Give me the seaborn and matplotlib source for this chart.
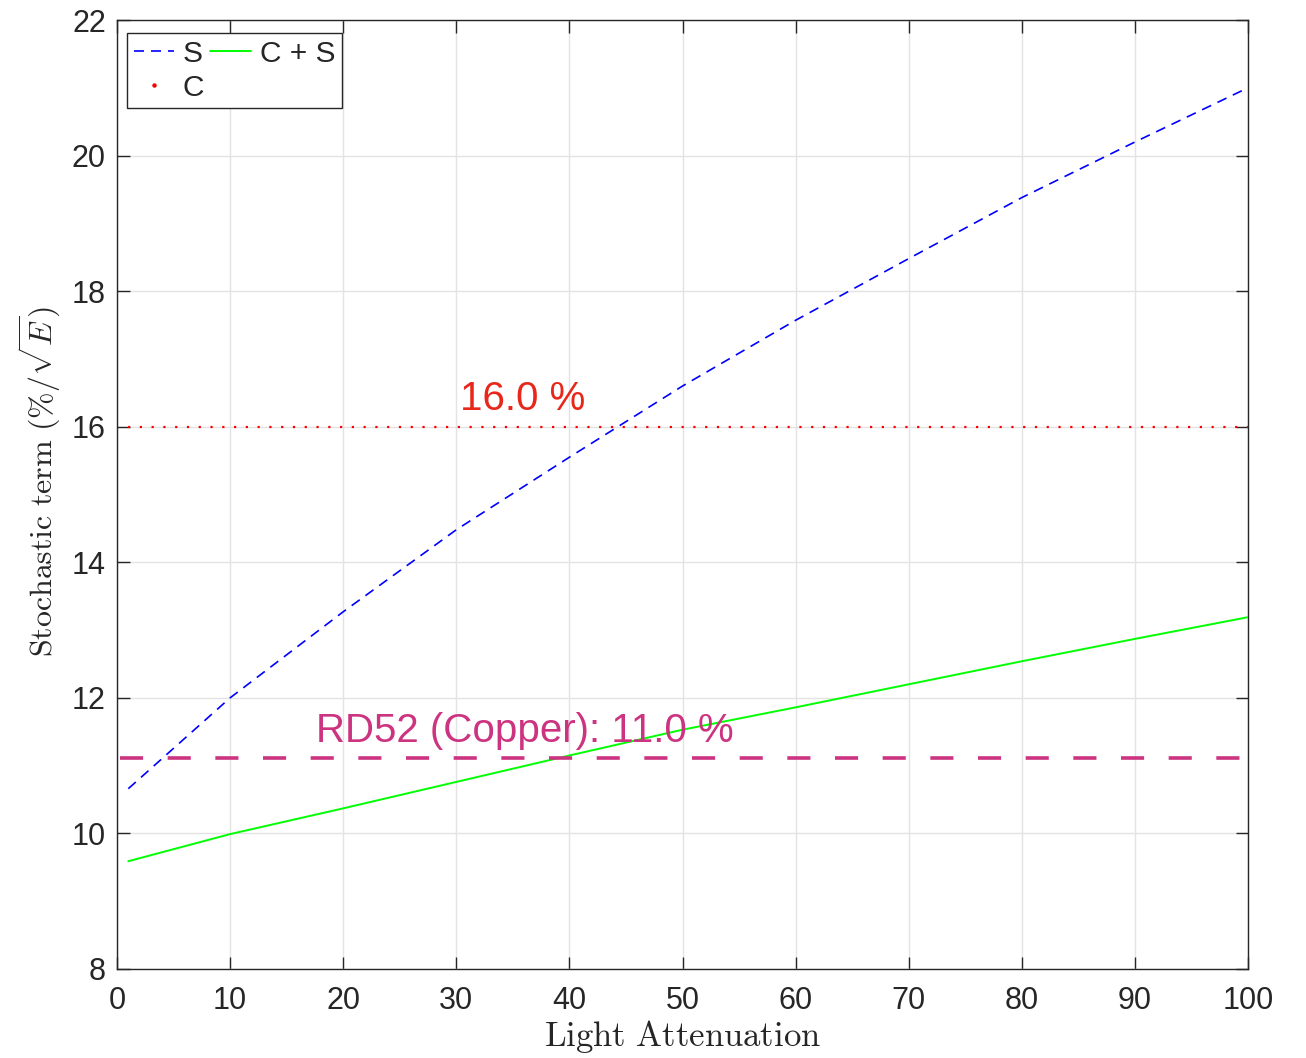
import numpy as np
import pandas as pd
import matplotlib
matplotlib.use("Agg")
import matplotlib.pyplot as plt
from matplotlib.lines import Line2D
import seaborn as sns

# ---- data ----
attenuation = [1, 10, 20, 30, 40, 50, 60, 70, 80, 90, 100]
stoch_S = [10.66, 12.0, 13.27, 14.48, 15.55, 16.6, 17.57, 18.48, 19.38, 20.2, 21.0]
stoch_CS = [9.59, 9.99, 10.37, 10.76, 11.15, 11.53, 11.86, 12.2, 12.54, 12.87, 13.19]
const_C = 16.0
rd52_value = 11.12
rd52_x = [0.3, 100]
label_C = "16.0 %"
label_rd52 = "RD52 (Copper): 11.0 %"

sns.set_theme(style="ticks")
plt.rcParams["font.family"] = ["Liberation Sans", "DejaVu Sans"]
plt.rcParams["mathtext.fontset"] = "cm"

fig = plt.figure(figsize=(13.06, 10.58), dpi=100)
ax = fig.add_axes([117 / 1306, 1 - 969 / 1058, (1248 - 117) / 1306, (969 - 20) / 1058])

df_S = pd.DataFrame({"x": attenuation, "y": stoch_S})
df_CS = pd.DataFrame({"x": attenuation, "y": stoch_CS})
df_C = pd.DataFrame({"x": attenuation, "y": [const_C] * len(attenuation)})
df_rd = pd.DataFrame({"x": rd52_x, "y": [rd52_value] * len(rd52_x)})

sns.lineplot(data=df_S, x="x", y="y", ax=ax, color="#0000FF", lw=1.2,
             label="S", zorder=3)
ax.lines[-1].set_dashes((6, 4.2))
sns.lineplot(data=df_C, x="x", y="y", ax=ax, color="#FF0000", lw=1.6,
             label="C", zorder=3)
ax.lines[-1].set_linestyle((0, (1, 4.3)))
sns.lineplot(data=df_CS, x="x", y="y", ax=ax, color="#00FF00", lw=1.4,
             label="C + S", zorder=3)
sns.lineplot(data=df_rd, x="x", y="y", ax=ax, color="#CC3380", lw=2.6,
             legend=False, zorder=3)
ax.lines[-1].set_dashes((6.4, 6.8))

ax.text(30.3, 16.25, label_C, color="#E8261A", fontsize=29, ha="left",
        va="baseline")
ax.text(17.6, 11.35, label_rd52, color="#CC3380", fontsize=29, ha="left",
        va="baseline")

ax.set_xlim(0, 100)
ax.set_ylim(8, 22)
ax.set_xticks(np.arange(0, 101, 10))
ax.set_yticks(np.arange(8, 23, 2))
ax.grid(True, color="#E3E3E3", lw=1.0)
ax.set_axisbelow(True)
ax.tick_params(direction="in", length=9, width=1.0, labelsize=22,
               top=True, right=True, colors="#262626", labelcolor="#262626", pad=8)
ax.tick_params(axis="x", pad=12)
for s in ax.spines.values():
    s.set_color("#262626")
    s.set_linewidth(1.0)

ax.set_xlabel(r"$\mathrm{Light\ Attenuation}$", fontsize=25, color="#262626", labelpad=2)
ax.set_ylabel(r"$\mathrm{Stochastic\ term}\ (\%/\sqrt{E})$", fontsize=23,
              color="#262626")
ax.yaxis.set_label_coords(-0.0477, 0.513)

handles, labels = ax.get_legend_handles_labels()
new_handles = []
for h, l in zip(handles, labels):
    if l == "C":
        new_handles.append(Line2D([], [], color="#FF0000", linestyle="none",
                                  marker="o", markersize=2.2))
    else:
        new_handles.append(h)
leg = ax.legend(new_handles, labels, loc="upper left", ncol=2, fontsize=21.5,
                frameon=True, fancybox=False, edgecolor="#262626",
                framealpha=1, handlelength=1.35, handletextpad=0.3,
                columnspacing=0.2, borderpad=0.22, labelspacing=0.2,
                borderaxespad=0, bbox_to_anchor=(0.0088, 0.9863))
leg.get_frame().set_linewidth(1.0)

fig.savefig("out.png", dpi=100)
